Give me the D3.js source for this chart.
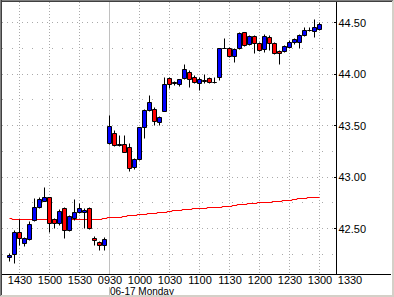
<!DOCTYPE html>
<html>
<head>
<meta charset="utf-8">
<script src="https://cdn.jsdelivr.net/npm/d3@7"></script>
<style>
  body { margin: 0; background: #fff; }
  svg { display: block; }
  text { font-family: Arial, "Liberation Sans", sans-serif; font-size: 11px; fill: #000; }
</style>
</head>
<body>
<script>
// 5 minute bars, two sessions
const times = [
  "1420","1425","1430","1435","1440","1445","1450","1455","1500","1505",
  "1510","1515","1520","1525","1530","1535","1540","1545","1550","1555",
  "0930","0935","0940","0945","0950","0955","1000","1005","1010","1015",
  "1020","1025","1030","1035","1040","1045","1050","1055","1100","1105",
  "1110","1115","1120","1125","1130","1135","1140","1145","1150","1155",
  "1200","1205","1210","1215","1220","1225","1230","1235","1240","1245",
  "1250","1255","1300"
];
// empty slots to the right of the last bar
const futureSlots = ["1305","1310","1315","1320","1325","1330"];

const open = [
  42.216,42.247,42.458,42.352,42.390,42.578,42.700,42.765,42.798,42.585,
  42.546,42.690,42.480,42.594,42.652,42.652,42.690,42.406,42.367,42.335,
  43.322,43.419,43.301,43.313,43.289,43.089,43.167,43.480,43.646,43.655,
  43.532,43.639,43.953,43.913,43.895,43.953,44.017,43.969,43.905,43.939,
  43.953,43.922,43.963,44.245,44.250,44.170,44.245,44.400,44.284,44.364,
  44.293,44.235,44.357,44.293,44.221,44.221,44.254,44.303,44.309,44.374,
  44.420,44.413,44.432
];
const high = [
  42.260,42.480,42.585,42.416,42.568,42.788,42.800,42.898,42.800,42.600,
  42.684,42.700,42.626,42.780,42.740,42.690,42.700,42.422,42.374,42.416,
  43.597,43.451,43.403,43.403,43.322,43.180,43.480,43.655,43.790,43.675,
  43.587,43.963,43.969,43.927,43.950,44.089,44.034,43.985,43.969,43.992,
  43.969,43.969,44.248,44.342,44.260,44.248,44.406,44.406,44.374,44.374,
  44.306,44.383,44.374,44.306,44.228,44.277,44.325,44.340,44.383,44.454,
  44.454,44.526,44.503
];
const low = [
  42.180,42.163,42.335,42.325,42.383,42.568,42.694,42.762,42.464,42.500,
  42.530,42.400,42.470,42.578,42.646,42.497,42.490,42.335,42.286,42.286,
  43.315,43.296,43.296,43.238,43.056,43.076,43.160,43.374,43.636,43.500,
  43.500,43.636,43.862,43.888,43.878,43.947,43.872,43.908,43.840,43.905,
  43.911,43.905,43.937,44.243,44.160,44.115,44.238,44.267,44.277,44.196,
  44.218,44.212,44.228,44.190,44.089,44.209,44.245,44.286,44.245,44.364,
  44.410,44.351,44.422
];
const close = [
  42.241,42.458,42.400,42.400,42.536,42.700,42.777,42.798,42.551,42.552,
  42.665,42.480,42.614,42.652,42.690,42.678,42.497,42.381,42.335,42.390,
  43.490,43.306,43.311,43.241,43.080,43.167,43.478,43.646,43.720,43.539,
  43.575,43.895,43.895,43.908,43.944,44.040,43.944,43.915,43.944,43.932,
  43.920,43.916,44.245,44.250,44.170,44.235,44.390,44.277,44.364,44.293,
  44.228,44.364,44.293,44.196,44.196,44.267,44.303,44.332,44.374,44.422,
  44.423,44.454,44.481
];
// moving average line
const ma = [
  42.600,42.590,42.590,42.590,42.590,42.590,42.590,42.590,42.590,42.590,
  42.590,42.590,42.590,42.590,42.590,42.590,42.590,42.590,42.590,42.600,
  42.604,42.610,42.610,42.620,42.625,42.630,42.635,42.640,42.643,42.650,
  42.655,42.660,42.665,42.670,42.675,42.680,42.685,42.690,42.692,42.695,
  42.700,42.705,42.707,42.710,42.715,42.720,42.730,42.735,42.740,42.745,
  42.750,42.752,42.757,42.762,42.765,42.770,42.775,42.780,42.790,42.793,
  42.797,42.800,42.800
];

const xLabels = ["1430","1500","1530","0930","1000","1030","1100","1130","1200","1230","1300","1330"];
const dayBreak = "0930";
const dayLabel = "06-17 Monday";
const yTicks = [42.5, 43.0, 43.5, 44.0, 44.5];
const yGrid = [42.25, 42.5, 42.75, 43.0, 43.25, 43.5, 43.75, 44.0, 44.25, 44.5];

const width = 394, height = 297;
const plotL = 2, plotR = 336, plotT = 2, plotB = 274;

const svg = d3.select("body").append("svg")
  .attr("width", width)
  .attr("height", height);

svg.append("rect")
  .attr("width", width).attr("height", height)
  .attr("fill", "#fff");

const x = d3.scalePoint()
  .domain(times.concat(futureSlots))
  .range([9, 349]);

const y = d3.scaleLinear()
  .domain([42.5, 44.5])
  .range([228.5, 22.5]);

const snap = v => Math.round(v - 0.5) + 0.5;

// grid
const grid = svg.append("g");
grid.selectAll(".hgrid")
  .data(yGrid)
  .join("line")
  .attr("class", "hgrid")
  .attr("x1", plotL).attr("x2", plotR)
  .attr("y1", d => snap(y(d))).attr("y2", d => snap(y(d)))
  .attr("stroke", "#aaa")
  .attr("stroke-dasharray", d => (d * 2) % 1 === 0 ? "1,4" : "1,9");

grid.selectAll(".vgrid")
  .data(xLabels.filter(d => d !== dayBreak && d !== "1330"))
  .join("line")
  .attr("class", "vgrid")
  .attr("x1", d => x(d) + 0.5).attr("x2", d => x(d) + 0.5)
  .attr("y1", plotT).attr("y2", plotB)
  .attr("stroke", "#aaa")
  .attr("stroke-dasharray", "1,2");

// day separator
grid.append("line")
  .attr("x1", x(dayBreak) + 0.5).attr("x2", x(dayBreak) + 0.5)
  .attr("y1", plotT).attr("y2", plotB)
  .attr("stroke", "#c0c0c0");
grid.append("line")
  .attr("x1", x(dayBreak) + 0.5).attr("x2", x(dayBreak) + 0.5)
  .attr("y1", 287).attr("y2", 297)
  .attr("stroke", "#c0c0c0");

// moving average
const maLine = d3.line()
  .x((d, i) => x(times[i]) + 0.5)
  .y(d => snap(y(d)))
  .curve(d3.curveStep);

svg.append("path")
  .datum(ma)
  .attr("d", maLine)
  .attr("fill", "none")
  .attr("stroke", "#ff0000")
  .attr("stroke-width", 1);

// candles
const bars = times.map((t, i) => ({ t, o: open[i], h: high[i], l: low[i], c: close[i] }));
const candles = svg.append("g");

candles.selectAll(".wick")
  .data(bars)
  .join("line")
  .attr("class", "wick")
  .attr("x1", d => x(d.t) + 0.5).attr("x2", d => x(d.t) + 0.5)
  .attr("y1", d => snap(y(d.h))).attr("y2", d => snap(y(d.l)))
  .attr("stroke", "#000");

candles.selectAll(".body")
  .data(bars)
  .join("path")
  .attr("class", "body")
  .attr("d", d => {
    const cx = x(d.t);
    const top = snap(y(Math.max(d.o, d.c)));
    const bot = snap(y(Math.min(d.o, d.c)));
    return `M${cx - 1.5},${top}H${cx + 2.5}V${bot}H${cx - 1.5}Z`;
  })
  .attr("fill", d => d.c >= d.o ? "#0000ff" : "#ff0000")
  .attr("stroke", "#000");

// axes
svg.append("line")
  .attr("x1", plotR + 0.5).attr("x2", plotR + 0.5)
  .attr("y1", plotT).attr("y2", plotB + 0.5)
  .attr("stroke", "#000");
svg.append("line")
  .attr("x1", plotL).attr("x2", 391)
  .attr("y1", plotB + 0.5).attr("y2", plotB + 0.5)
  .attr("stroke", "#000");

const yAxis = svg.append("g")
  .attr("transform", `translate(${plotR + 0.5},0)`)
  .call(d3.axisRight(y).tickValues(yTicks).tickSize(0).tickPadding(2).tickFormat(d3.format(".2f")));
yAxis.select(".domain").remove();
yAxis.selectAll("text").style("font-size", "11px").style("font-family", "Arial, 'Liberation Sans', sans-serif");

svg.selectAll(".ytick")
  .data(yTicks)
  .join("line")
  .attr("class", "ytick")
  .attr("x1", plotR - 2).attr("x2", plotR)
  .attr("y1", d => snap(y(d))).attr("y2", d => snap(y(d)))
  .attr("stroke", "#000");

const xAxis = svg.append("g")
  .attr("transform", `translate(0.5,${plotB})`)
  .call(d3.axisBottom(x).tickValues(xLabels).tickSize(0).tickPadding(0));
xAxis.select(".domain").remove();
xAxis.selectAll("text")
  .attr("y", 10).attr("dy", null)
  .style("font-size", "11px")
  .style("font-family", "Arial, 'Liberation Sans', sans-serif");

svg.append("text")
  .attr("x", x(dayBreak) + 1)
  .attr("y", 294.5)
  .style("font-size", "10px")
  .text(dayLabel);

// sunken frame
const frame = svg.append("g");
frame.append("line").attr("x1", 0).attr("x2", width).attr("y1", 0.5).attr("y2", 0.5).attr("stroke", "#808080");
frame.append("line").attr("x1", 0).attr("x2", width - 1).attr("y1", 1.5).attr("y2", 1.5).attr("stroke", "#404040");
frame.append("line").attr("x1", 0.5).attr("x2", 0.5).attr("y1", 0).attr("y2", height).attr("stroke", "#808080");
frame.append("line").attr("x1", 1.5).attr("x2", 1.5).attr("y1", 0).attr("y2", height - 1).attr("stroke", "#404040");
frame.append("line").attr("x1", width - 0.5).attr("x2", width - 0.5).attr("y1", 0).attr("y2", height).attr("stroke", "#d4d0c8");
frame.append("line").attr("x1", width - 1.5).attr("x2", width - 1.5).attr("y1", 1).attr("y2", height - 1).attr("stroke", "#d4d0c8");
frame.append("line").attr("x1", 0).attr("x2", width).attr("y1", height - 0.5).attr("y2", height - 0.5).attr("stroke", "#d4d0c8");
frame.append("line").attr("x1", 1).attr("x2", width - 1).attr("y1", height - 1.5).attr("y2", height - 1.5).attr("stroke", "#d4d0c8");
</script>
</body>
</html>
